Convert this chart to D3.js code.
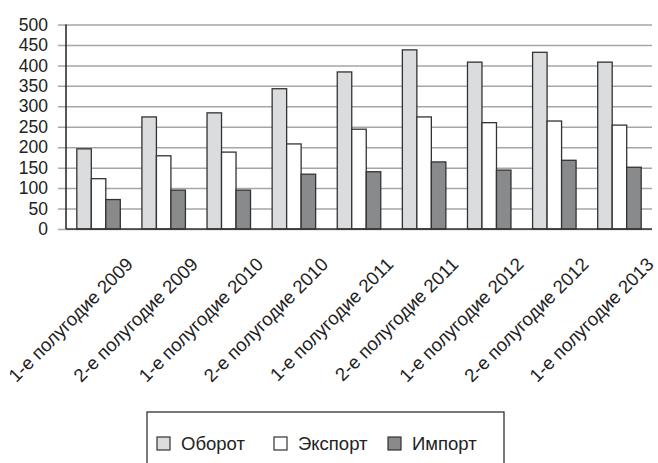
<!DOCTYPE html>
<html>
<head>
<meta charset="utf-8">
<script src="https://cdn.jsdelivr.net/npm/d3@7"></script>
<style>
  body { margin: 0; background: #fff; }
  text { font-family: "Liberation Sans", Arial, sans-serif; fill: #222; }
</style>
</head>
<body>
<div class="chart"></div>
<script>
const periods = ["1-е полугодие 2009", "2-е полугодие 2009", "1-е полугодие 2010", "2-е полугодие 2010",
  "1-е полугодие 2011", "2-е полугодие 2011", "1-е полугодие 2012", "2-е полугодие 2012", "1-е полугодие 2013"];
const series = ["Оборот", "Экспорт", "Импорт"];
const turnover = [196, 274, 284, 343, 384, 438, 408, 432, 408];
const exportVals = [123, 179, 188, 208, 244, 274, 260, 264, 254];
const importVals = [72, 95, 95, 134, 140, 164, 144, 168, 151];
const yTicks = [0, 50, 100, 150, 200, 250, 300, 350, 400, 450, 500];

const W = 658, H = 463;
const plot = {left: 66, right: 652, top: 24.5, bottom: 229};

const svg = d3.select(".chart").append("svg")
  .attr("width", W)
  .attr("height", H);

const x0 = d3.scaleBand()
  .domain(periods)
  .range([plot.left, plot.right])
  .paddingInner(0.332)
  .paddingOuter(0.166);

const x1 = d3.scaleBand()
  .domain(series)
  .range([0, x0.bandwidth()]);

const y = d3.scaleLinear()
  .domain([0, 500])
  .range([plot.bottom, plot.top]);

const color = d3.scaleOrdinal()
  .domain(series)
  .range(["#dbdcdd", "#ffffff", "#898a8c"]);

// gridlines + y labels
const yAxis = svg.append("g")
  .attr("transform", `translate(${plot.left},0)`)
  .call(d3.axisLeft(y).tickValues(yTicks).tickSize(8).tickPadding(10).tickFormat(d3.format("d")));
yAxis.select(".domain").remove();
yAxis.selectAll(".tick line").attr("stroke", "#a6a6a6").attr("stroke-width", 1.5)
  .attr("x1", -8).attr("x2", plot.right - plot.left);
yAxis.selectAll(".tick text").attr("font-size", 17.5).attr("fill", "#222")
  .style("font-family", "'Liberation Sans', Arial, sans-serif");

// bars
const rows = periods.map((p, i) => ({ p, vals: [turnover[i], exportVals[i], importVals[i]] }));
svg.append("g")
  .selectAll("g")
  .data(rows)
  .join("g")
    .attr("transform", d => `translate(${x0(d.p)},0)`)
  .selectAll("rect")
  .data(d => d.vals.map((v, k) => ({ s: series[k], v })))
  .join("rect")
    .attr("x", d => x1(d.s))
    .attr("y", d => y(d.v))
    .attr("width", x1.bandwidth())
    .attr("height", d => y(0) - y(d.v))
    .attr("fill", d => color(d.s))
    .attr("stroke", "#333")
    .attr("stroke-width", 1.3);

// axis lines
svg.append("line").attr("x1", plot.left).attr("x2", plot.left).attr("y1", plot.top).attr("y2", plot.bottom)
  .attr("stroke", "#222").attr("stroke-width", 1.5);
svg.append("line").attr("x1", plot.left).attr("x2", plot.right).attr("y1", plot.bottom).attr("y2", plot.bottom)
  .attr("stroke", "#333").attr("stroke-width", 1.5);

// rotated category labels
svg.append("g")
  .selectAll("text")
  .data(periods)
  .join("text")
    .attr("transform", d => `translate(${x0(d) + x0.bandwidth() / 2 + 35.5},${plot.bottom + 36.5}) rotate(-45)`)
    .attr("text-anchor", "end")
    .attr("font-size", 18.6)
    .text(d => d);

// legend
const lg = svg.append("g");
lg.append("rect")
  .attr("x", 147).attr("y", 412).attr("width", 357).attr("height", 80)
  .attr("fill", "#fff").attr("stroke", "#333").attr("stroke-width", 1.3);
const legendX = [157, 274, 388];
series.forEach((s, k) => {
  lg.append("rect")
    .attr("x", legendX[k]).attr("y", 437).attr("width", 13).attr("height", 13)
    .attr("fill", color(s)).attr("stroke", "#333").attr("stroke-width", 1.2);
  lg.append("text")
    .attr("x", legendX[k] + 24).attr("y", 450)
    .attr("font-size", 18.5)
    .text(s);
});
</script>
</body>
</html>
